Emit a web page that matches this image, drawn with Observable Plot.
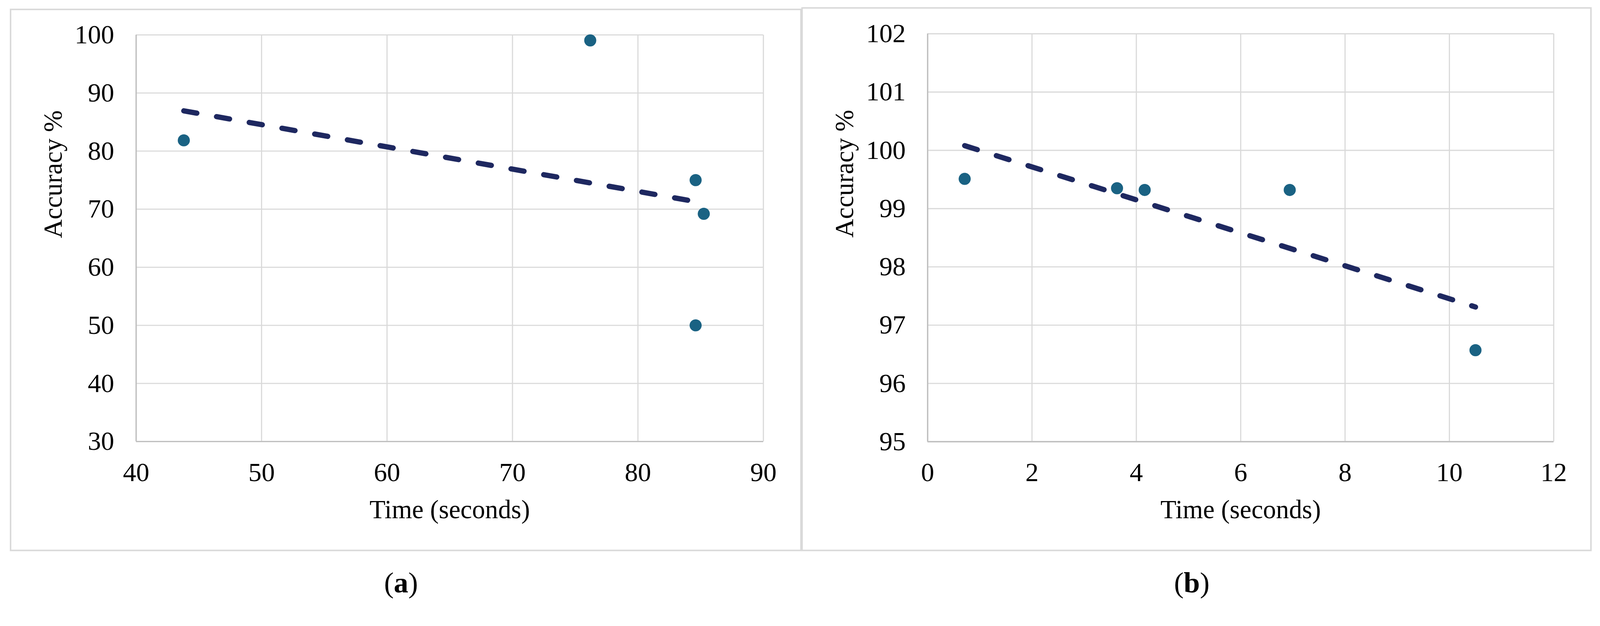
<!DOCTYPE html>
<html>
<head>
<meta charset="utf-8">
<script src="https://cdn.jsdelivr.net/npm/d3@7"></script>
<script src="https://cdn.jsdelivr.net/npm/@observablehq/plot@0.6"></script>
<style>
  html, body { margin: 0; padding: 0; background: #fff; overflow: hidden; }
  #root { position: relative; width: 4237px; height: 1603px; background: #fff; overflow: hidden;
          transform-origin: 0 0;
          font-family: "Liberation Serif", "Times New Roman", serif; }
  .chart { position: absolute; top: 0; }
  .panel { position: absolute; box-sizing: border-box; border: 4px solid #d9d9d9; pointer-events: none; }
  .caption { position: absolute; font-size: 77px; line-height: 1; color: #000; transform: translateX(-50%);
             white-space: nowrap; font-family: "Liberation Serif", "Times New Roman", serif; }
</style>
</head>
<body>
<div id="root"></div>
<script>
// ---- data ----
const timeA = [43.8, 76.2, 84.6, 85.25, 84.6];
const accA  = [81.85, 99.05, 75.0, 69.2, 50.0];
const timeB = [0.71, 3.63, 4.16, 6.94, 10.5];
const accB  = [99.51, 99.35, 99.32, 99.32, 96.57];

const xTicksA = [40, 50, 60, 70, 80, 90];
const yTicksA = [30, 40, 50, 60, 70, 80, 90, 100];
const xTicksB = [0, 2, 4, 6, 8, 10, 12];
const yTicksB = [95, 96, 97, 98, 99, 100, 101, 102];

const xLabel = "Time (seconds)";
const yLabel = "Accuracy %";
const captionLetters = ["a", "b"];

// ---- styles ----
const GRID = "#d9d9d9";
const AXIS = "#bfbfbf";
const DOT = "#1a6283";
const TREND = "#1e2860";
const FONT = "Liberation Serif, Times New Roman, serif";

function makeChart(time, acc, xTicks, yTicks, layout) {
  const data = time.map((t, i) => ({t, a: acc[i]}));
  return Plot.plot({
    width: layout.width,
    height: layout.height,
    marginLeft: layout.ml,
    marginRight: layout.mr,
    marginTop: layout.mt,
    marginBottom: layout.mb,
    style: {fontFamily: FONT, fontSize: "70px", color: "#000", background: "none", overflow: "visible"},
    x: {domain: [xTicks[0], xTicks[xTicks.length - 1]], label: null},
    y: {domain: [yTicks[0], yTicks[yTicks.length - 1]], label: null},
    marks: [
      Plot.gridX(xTicks, {stroke: GRID, strokeOpacity: 1, strokeWidth: 3}),
      Plot.gridY(yTicks, {stroke: GRID, strokeOpacity: 1, strokeWidth: 3}),
      Plot.ruleX([xTicks[0]], {stroke: AXIS, strokeWidth: 3.5}),
      Plot.ruleY([yTicks[0]], {stroke: AXIS, strokeWidth: 3.5}),
      Plot.axisX({ticks: xTicks, tickFormat: d => String(d), tickSize: 0, tickPadding: 55, label: null, fontSize: 70, fill: "#000"}),
      Plot.axisY({ticks: yTicks, tickFormat: d => String(d), tickSize: 0, tickPadding: 58, label: null, fontSize: 70, fill: "#000"}),
      Plot.linearRegressionY(data, {
        x: "t", y: "a", ci: 0, stroke: TREND, strokeWidth: 14,
        strokeDasharray: "35,53", strokeLinecap: "round"
      }),
      Plot.dot(data, {x: "t", y: "a", r: 16, fill: DOT, stroke: "none"}),
      Plot.text([xLabel], {frameAnchor: "bottom", lineAnchor: "bottom", dy: 203, fontSize: 69, fill: "#000"}),
      Plot.text([yLabel], {frameAnchor: "left", lineAnchor: "bottom", rotate: -90, dx: -197, fontSize: 69, fill: "#000"})
    ]
  });
}

const root = document.getElementById("root");

const chartA = makeChart(timeA, accA, xTicksA, yTicksA, {width: 2122, height: 1458, ml: 360, mr: 101, mt: 92, mb: 289});
chartA.classList.add("chart");
chartA.style.left = "0px";
root.appendChild(chartA);

const chartB = makeChart(timeB, accB, xTicksB, yTicksB, {width: 2115, height: 1458, ml: 334, mr: 123, mt: 89, mb: 288.5});
chartB.classList.add("chart");
chartB.style.left = "2122px";
root.appendChild(chartB);

// panel borders
const panels = [
  {left: 26, top: 23, width: 2097, height: 1437},
  {left: 2122, top: 19, width: 2093, height: 1441}
];
panels.forEach(p => {
  const d = document.createElement("div");
  d.className = "panel";
  Object.assign(d.style, {left: p.left + "px", top: p.top + "px", width: p.width + "px", height: p.height + "px"});
  root.appendChild(d);
});

// captions (a), (b)
const capX = [1062, 3156];
captionLetters.forEach((c, i) => {
  const d = document.createElement("div");
  d.className = "caption";
  d.style.left = capX[i] + "px";
  d.style.top = "1505px";
  d.innerHTML = "(<b>" + c + "</b>)";
  root.appendChild(d);
});

// fit the 4237x1603 figure into the actual viewport
function fit() {
  const s = Math.min(window.innerWidth / 4237, window.innerHeight / 1603);
  root.style.transform = s < 0.999 || s > 1.001 ? `scale(${s})` : "none";
}
fit();
window.addEventListener("resize", fit);
</script>
</body>
</html>
